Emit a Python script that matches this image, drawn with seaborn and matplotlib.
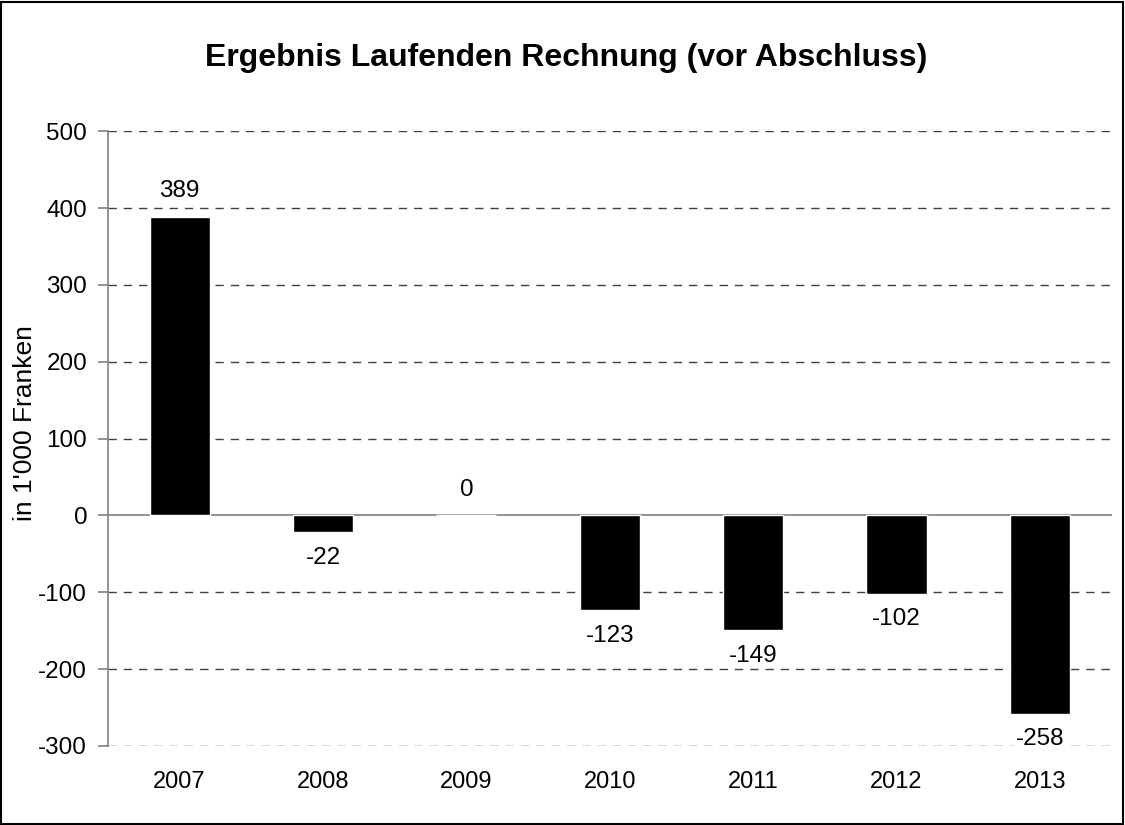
import matplotlib
matplotlib.use("Agg")
import matplotlib.pyplot as plt
import seaborn as sns
import pandas as pd
from matplotlib.patches import Rectangle

years = ["2007", "2008", "2009", "2010", "2011", "2012", "2013"]
values = [389, -22, 0, -123, -149, -102, -258]
yticks = [-300, -200, -100, 0, 100, 200, 300, 400, 500]
title = "Ergebnis Laufenden Rechnung (vor Abschluss)"
ylabel = "in 1'000 Franken"

sns.set_theme(style="white")
plt.rcParams['font.family'] = ['Liberation Sans', 'DejaVu Sans']
plt.rcParams['text.color'] = 'black'
plt.rcParams['xtick.color'] = 'black'
plt.rcParams['ytick.color'] = 'black'
plt.rcParams['axes.labelcolor'] = 'black'

df = pd.DataFrame({"Jahr": years, "Wert": values})

fig = plt.figure(figsize=(11.25, 8.25), dpi=100)
ax = fig.add_axes([0.096, 0.0958, 0.892, 0.745])

sns.barplot(data=df, x="Jahr", y="Wert", order=years, color="black",
            width=0.42, saturation=1, ax=ax, zorder=3)

ax.set_ylim(-300, 500)
ax.set_xlim(-0.5, 6.5)
ax.set_yticks(yticks)
ax.set_yticklabels([str(t) for t in yticks], fontsize=17.5)
ax.set_xticks(range(len(years)))
ax.set_xticklabels(years, fontsize=17)

for t in yticks:
    if t == 0:
        ax.axhline(0, color="#808080", lw=1.2, zorder=2)
    else:
        ax.axhline(t, color="#404040", lw=1.0, ls=(0, (6, 5)), zorder=1)

for s in ["top", "right", "bottom"]:
    ax.spines[s].set_visible(False)
ax.spines["left"].set_color("#808080")
ax.spines["left"].set_linewidth(1.2)

ax.tick_params(axis="y", left=True, length=7, color="#808080", width=1.2, pad=8,
               labelcolor="black")
ax.tick_params(axis="x", bottom=False, length=0, pad=18, labelcolor="black")
ax.set_xlabel("")
ax.set_ylabel("")

fig.text(25 / 1125, 1 - 423 / 825, ylabel, rotation=90, ha="center", va="center",
         fontsize=19, color="black")

for i, v in enumerate(values):
    if v >= 0:
        ax.annotate(str(v), (i, v), xytext=(0, 10.5), textcoords="offset points",
                    ha="center", va="bottom", fontsize=17.5, zorder=5, color="black",
                    bbox=dict(boxstyle="square,pad=0.05", fc="white", ec="none"))
    else:
        ax.annotate(str(v), (i, v), xytext=(0, -10.5), textcoords="offset points",
                    ha="center", va="top", fontsize=17.5, zorder=5, color="black",
                    bbox=dict(boxstyle="square,pad=0.05", fc="white", ec="none"))

fig.text(0.503, 0.93, title, ha="center", va="center", fontsize=23,
         fontweight="bold", color="black")

fig.patches.append(Rectangle((0.001, 0.001), 0.997, 0.997, transform=fig.transFigure,
                             fill=False, ec="black", lw=1.5))

fig.savefig("out.png", dpi=100)
